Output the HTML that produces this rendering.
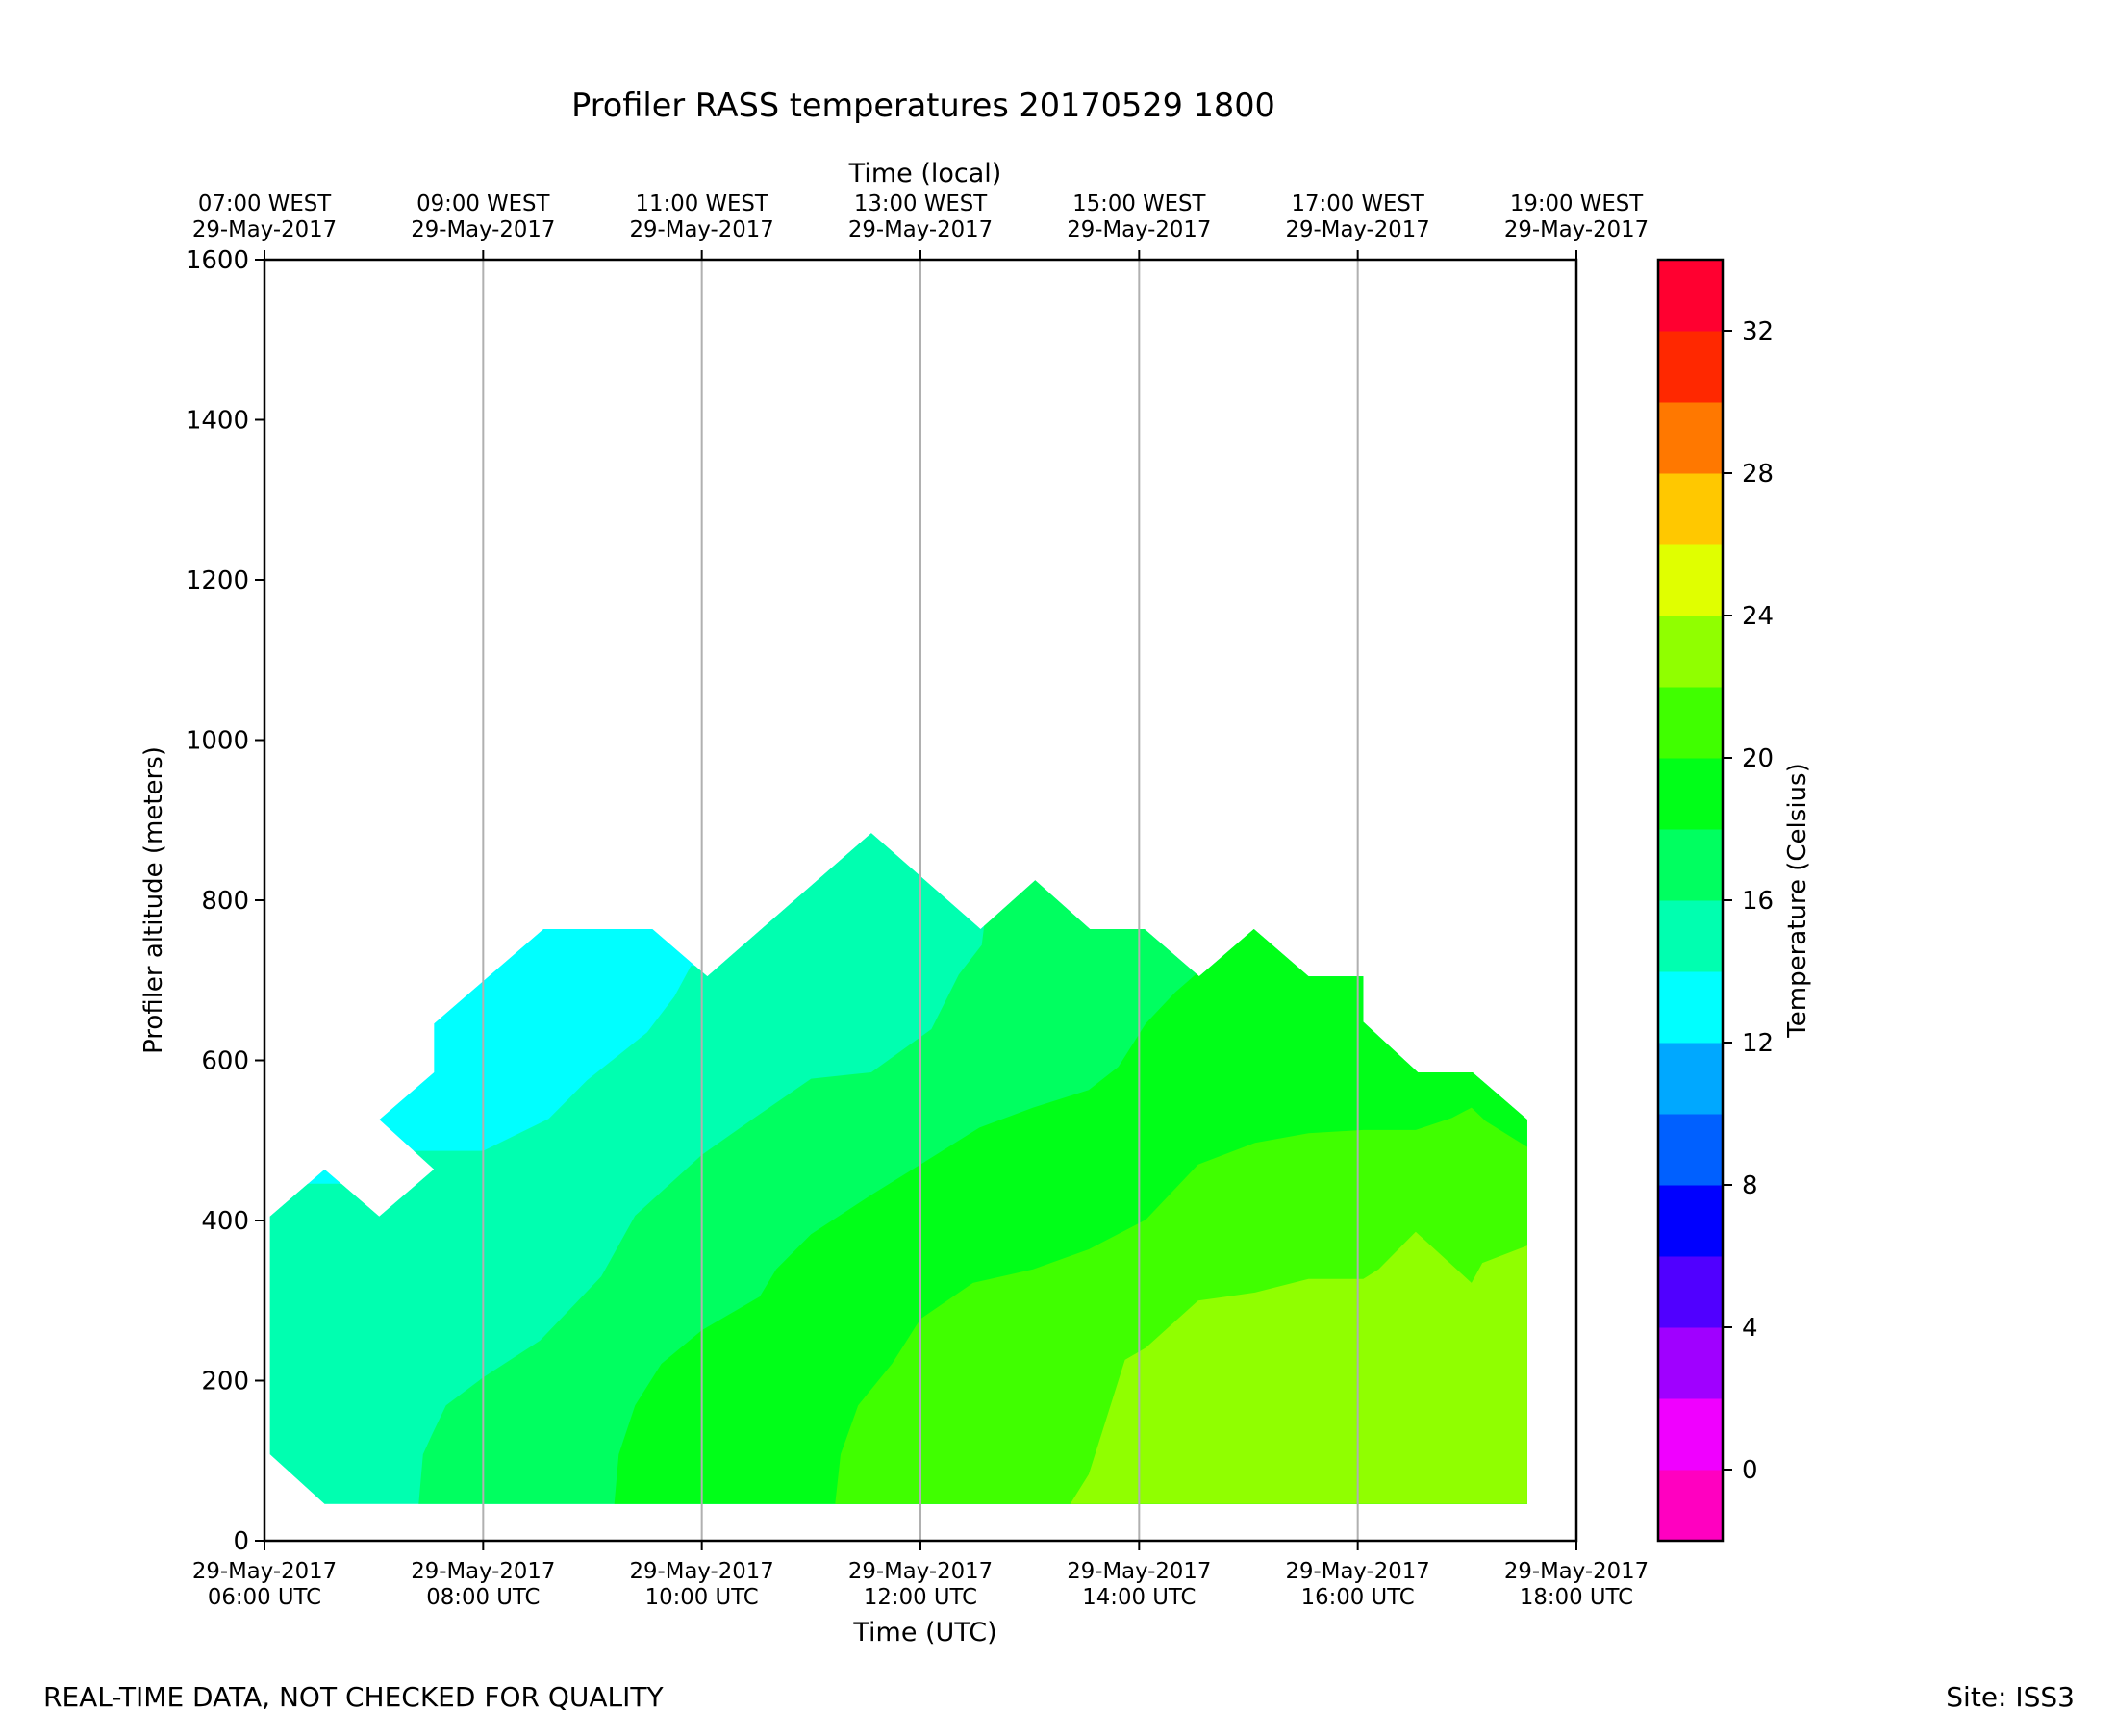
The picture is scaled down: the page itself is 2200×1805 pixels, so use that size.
<!DOCTYPE html>
<html><head><meta charset="utf-8"><style>
body{margin:0;background:#fff;}
svg text{font-family:"DejaVu Sans","Liberation Sans",sans-serif;fill:#000;}
</style></head><body>
<svg id="chart" xmlns="http://www.w3.org/2000/svg" width="2200" height="1800" viewBox="0 0 2200 1800">
<rect width="2200" height="1800" fill="#fff"/>
<text x="960" y="121" font-size="33.5" text-anchor="middle">Profiler RASS temperatures 20170529 1800</text>
<text x="962" y="189" font-size="27" text-anchor="middle">Time (local)</text>
<text x="962" y="1706" font-size="27" text-anchor="middle">Time (UTC)</text>
<text x="0" y="0" font-size="26" text-anchor="middle" transform="translate(168,936) rotate(-90)">Profiler altitude (meters)</text>
<text x="0" y="0" font-size="26" text-anchor="middle" transform="translate(1877,936) rotate(-90)">Temperature (Celsius)</text>
<text x="45" y="1774" font-size="28">REAL-TIME DATA, NOT CHECKED FOR QUALITY</text>
<text x="2157" y="1774" font-size="28" text-anchor="end">Site: ISS3</text>
<g id="plot"></g>
</svg>
<script>
const xTicks = [6, 8, 10, 12, 14, 16, 18];
const xTickUTC = ["06:00 UTC","08:00 UTC","10:00 UTC","12:00 UTC","14:00 UTC","16:00 UTC","18:00 UTC"];
const xTickLocal = ["07:00 WEST","09:00 WEST","11:00 WEST","13:00 WEST","15:00 WEST","17:00 WEST","19:00 WEST"];
const xTickDate = "29-May-2017";
const yTicks = [0, 200, 400, 600, 800, 1000, 1200, 1400, 1600];
const cbLevels = [-2,0,2,4,6,8,10,12,14,16,18,20,22,24,26,28,30,32,34];
const cbColors = ["#ff00c0","#f000ff","#a000ff","#5000ff","#0000ff","#0060ff","#00a8ff","#00ffff","#00ffb0","#00ff60","#00ff18","#40ff00","#90ff00","#e0ff00","#ffc800","#ff7800","#ff2800","#ff0030"];
const cbTicks = [0,4,8,12,16,20,24,28,32];
const envelope = [[6.05,405],[6.55,464],[7.05,405],[7.55,464],[7.05,526],[7.55,585],[7.55,646],[8.55,764],[9.55,764],[10.05,705],[11.55,884],[12.55,764],[13.05,825],[13.55,764],[14.05,764],[14.55,705],[15.05,764],[15.55,705],[16.05,705],[16.05,648],[16.55,585],[17.05,585],[17.55,526],[17.55,46],[6.55,46],[6.05,108]];
const envLevel = 12;
const lev14 = [[5.9,0],[5.9,446],[6.72,446],[7.0,487],[8.0,487],[8.6,527],[8.95,575],[9.5,635],[9.75,680],[9.9,718],[10.1,718],[10.1,950],[18.5,950],[18.5,0]];
const lev16 = [[7.41,0],[7.41,46],[7.45,108],[7.53,132],[7.66,169],[8.0,204],[8.52,250],[9.08,330],[9.39,406],[10.0,482],[10.5,530],[11.0,577],[11.55,585],[12.1,639],[12.35,707],[12.56,744],[12.75,950],[18.5,950],[18.5,0]];
const lev18 = [[9.2,0],[9.2,46],[9.24,108],[9.39,169],[9.63,221],[10.0,263],[10.53,305],[10.68,339],[11.0,383],[11.55,432],[12.0,470],[12.54,516],[13.03,541],[13.54,563],[13.81,592],[14.06,646],[14.33,685],[14.54,710],[14.6,950],[18.5,950],[18.5,0]];
const lev20 = [[11.22,0],[11.22,46],[11.27,108],[11.43,169],[11.74,221],[12.0,277],[12.48,322],[13.03,339],[13.54,364],[14.06,401],[14.54,470],[15.06,497],[15.55,509],[16.05,513],[16.53,513],[16.86,528],[17.04,541],[17.17,524],[17.56,491],[18.5,491],[18.5,0]];
const lev22 = [[13.37,0],[13.37,46],[13.54,83],[13.87,226],[14.06,241],[14.54,300],[15.06,310],[15.55,327],[16.05,327],[16.19,339],[16.53,386],[17.04,322],[17.14,347],[17.56,369],[18.5,369],[18.5,0]];
const layers = [lev14, lev16, lev18, lev20, lev22];
const layerLevels = [14, 16, 18, 20, 22];

const X0=275, X1=1639, Y0=1602, Y1=270;
const xs = h => X0 + (h-6)/12*(X1-X0);
const ys = m => Y0 - m/1600*(Y0-Y1);
const cbY = v => Y0 - (v-(-2))/36*(Y0-Y1);
const colorFor = lv => cbColors[cbLevels.indexOf(lv)];
const NS="http://www.w3.org/2000/svg";
const g=document.getElementById('plot');
function mk(tag, attrs, parent){const e=document.createElementNS(NS,tag);for(const k in attrs)e.setAttribute(k,attrs[k]);(parent||g).appendChild(e);return e;}
const pts = arr => arr.map(p=>xs(p[0]).toFixed(1)+','+ys(p[1]).toFixed(1)).join(' ');

const defs=mk('defs',{});
const cp=mk('clipPath',{id:'env'},defs);
mk('polygon',{points:pts(envelope)},cp);
const fills=mk('g',{'clip-path':'url(#env)'});


const envP=mk('polygon',{points:pts(envelope),fill:colorFor(envLevel)},fills);


layers.forEach((L,i)=>{
  const p=mk('polygon',{points:pts(L),fill:colorFor(layerLevels[i])},fills);
  
  
});
xTicks.slice(1,-1).forEach(t=>{
  const l=mk('line',{x1:xs(t),x2:xs(t),y1:Y1,y2:Y0,stroke:'#b0b0b0','stroke-width':2});
  
  
});
const frame=mk('rect',{x:X0,y:Y1,width:X1-X0,height:Y0-Y1,fill:'none',stroke:'#000','stroke-width':2.5});


xTicks.forEach((t,i)=>{
  const x=xs(t);
  mk('line',{x1:x,x2:x,y1:Y0,y2:Y0+10,stroke:'#000','stroke-width':2});
  mk('line',{x1:x,x2:x,y1:Y1,y2:Y1-10,stroke:'#000','stroke-width':2});
  const a=mk('text',{x:x,y:1641,'font-size':22.8,'text-anchor':'middle'});a.textContent=xTickDate;
  
  
  const b=mk('text',{x:x,y:1668,'font-size':22.8,'text-anchor':'middle'});b.textContent=xTickUTC[i];
  
  
  const c=mk('text',{x:x,y:219,'font-size':22.8,'text-anchor':'middle'});c.textContent=xTickLocal[i];
  
  
  const d=mk('text',{x:x,y:246,'font-size':22.8,'text-anchor':'middle'});d.textContent=xTickDate;
  
  
});
yTicks.forEach(t=>{
  const y=ys(t);
  mk('line',{x1:X0-10,x2:X0,y1:y,y2:y,stroke:'#000','stroke-width':2});
  const a=mk('text',{x:X0-16,y:y+9,'font-size':26,'text-anchor':'end'});a.textContent=t;
  
  
});
const CB0=1724, CB1=1791;
cbColors.forEach((c,i)=>{
  const r=mk('rect',{x:CB0,y:cbY(cbLevels[i+1]),width:CB1-CB0,height:cbY(cbLevels[i])-cbY(cbLevels[i+1])+0.5,fill:c});
  
  
});
const cbf=mk('rect',{x:CB0,y:Y1,width:CB1-CB0,height:Y0-Y1,fill:'none',stroke:'#000','stroke-width':2.5});


cbTicks.forEach(t=>{
  const y=cbY(t);
  mk('line',{x1:CB1,x2:CB1+10,y1:y,y2:y,stroke:'#000','stroke-width':2});
  const a=mk('text',{x:CB1+20,y:y+9,'font-size':26});a.textContent=t;
  
  
});
</script>
</body></html>
